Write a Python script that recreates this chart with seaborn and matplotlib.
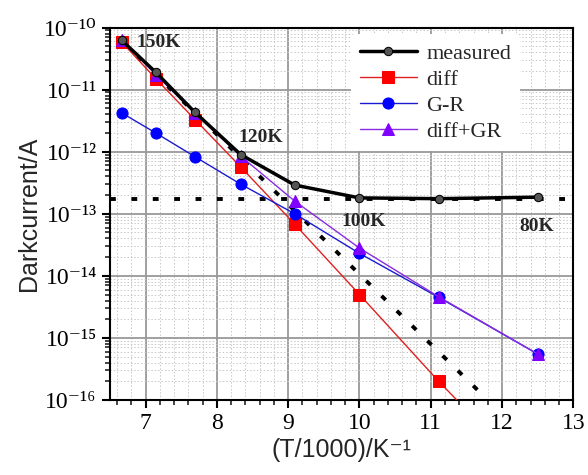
import numpy as np
import pandas as pd
import matplotlib
matplotlib.use("Agg")
import matplotlib.pyplot as plt
import matplotlib.ticker as mticker
import seaborn as sns

# ---- data ----
inv_T = [6.667, 7.143, 7.692, 8.333, 9.091, 10.0, 11.111, 12.5]
measured = [6.2e-11, 1.9e-11, 4.3e-12, 9.0e-13, 2.9e-13, 1.8e-13, 1.75e-13, 1.85e-13]
diff = [5.8e-11, 1.5e-11, 3.3e-12, 5.7e-13, 6.8e-14, 5.0e-15, 2.0e-16, 4.5e-18]
gr = [4.2e-12, 2.0e-12, 8.3e-13, 3.0e-13, 1.0e-13, 2.3e-14, 4.5e-15, 5.5e-16]
diff_gr = [6.2e-11, 1.75e-11, 4.2e-12, 8.5e-13, 1.6e-13, 2.8e-14, 4.6e-15, 5.5e-16]
extrap_x = [6.667, 11.8]
extrap_y = [6.0e-11, 1.0e-16]
floor_y = 1.75e-13
temp_labels = ["150K", "120K", "100K", "80K"]
temp_label_x = [7.18, 8.61, 10.06, 12.49]
temp_label_y = [5.8e-11, 1.7e-12, 7.6e-14, 6.3e-14]

sns.set_theme(style="white")

SUP = str.maketrans("-0123456789", "⁻⁰¹²³⁴⁵⁶⁷⁸⁹")


def log_fmt(v, pos):
    e = int(round(np.log10(v)))
    return "10" + str(e).translate(SUP)


fig = plt.figure(figsize=(5.88, 4.75), dpi=100)
ax = fig.add_axes([0.187, 0.158, 0.788, 0.784])

ax.set_yscale("log")
ax.set_xlim(6.5, 13)
ax.set_ylim(1e-16, 1e-10)

# grids
ax.xaxis.set_major_locator(mticker.MultipleLocator(1))
ax.xaxis.set_minor_locator(mticker.MultipleLocator(0.2))
ax.yaxis.set_major_locator(mticker.LogLocator(base=10, numticks=10))
ax.yaxis.set_major_formatter(mticker.FuncFormatter(log_fmt))
ax.yaxis.set_minor_locator(mticker.LogLocator(base=10, subs=np.arange(2, 10), numticks=20))
ax.yaxis.set_minor_formatter(mticker.NullFormatter())
ax.grid(which="major", color="#999999", linewidth=1.3, linestyle="-")
ax.grid(which="minor", color="#c8c8c8", linewidth=0.7, linestyle=(0, (1.5, 2)))
ax.set_axisbelow(True)

# reference dotted lines
ax.axhline(floor_y, color="black", linestyle=(0, (1.5, 4)), linewidth=2.8, zorder=2)
sns.lineplot(x=extrap_x, y=extrap_y, ax=ax, color="black", linestyle=(0, (1.5, 4)),
             linewidth=2.8, zorder=2)

df = pd.DataFrame({"x": inv_T, "measured": measured, "diff": diff, "G-R": gr, "diff+GR": diff_gr})

sns.lineplot(data=df, x="x", y="measured", ax=ax, color="black", linewidth=2.5,
             marker="o", markersize=6, markerfacecolor="#555555", markeredgecolor="black",
             label="measured", zorder=5)
sns.lineplot(data=df, x="x", y="diff", ax=ax, color="#e02020", linewidth=1.0,
             marker="s", markersize=8, markerfacecolor="#ff0000", markeredgecolor="#ff0000",
             label="diff", zorder=4)
sns.lineplot(data=df, x="x", y="G-R", ax=ax, color="#1a1ad0", linewidth=1.0,
             marker="o", markersize=8, markerfacecolor="#0000ff", markeredgecolor="#0000ff",
             label="G-R", zorder=4)
sns.lineplot(data=df, x="x", y="diff+GR", ax=ax, color="#8a2be2", linewidth=1.0,
             marker="^", markersize=9, markerfacecolor="#8000ff", markeredgecolor="#8000ff",
             label="diff+GR", zorder=4)

for t, tx, ty in zip(temp_labels, temp_label_x, temp_label_y):
    ax.text(tx, ty, t, fontsize=14, fontweight="bold", family="Liberation Serif",
            ha="center", va="center", zorder=6)

for s in ax.spines.values():
    s.set_color("black")
    s.set_linewidth(1.5)

ax.tick_params(axis="both", which="major", direction="out", length=6, width=1.5,
               labelsize=17, colors="black", bottom=True, left=True)
ax.tick_params(axis="both", which="minor", direction="out", length=3.5, width=1.2,
               bottom=True, left=True)
for lab in ax.get_xticklabels():
    lab.set_family("Liberation Serif")
for lab in ax.get_yticklabels():
    lab.set_family(["Liberation Serif", "DejaVu Serif"])

ax.set_xlabel("(T/1000)/K⁻¹", fontsize=18, family=["Liberation Sans", "DejaVu Sans"], labelpad=3)
ax.set_ylabel("Darkcurrent/A", fontsize=18, family="Liberation Sans", labelpad=2)

leg = ax.legend(loc="upper left", bbox_to_anchor=(0.505, 1.0), frameon=True,
                prop={"family": "Liberation Serif", "size": 16}, handlelength=2.6,
                handletextpad=0.4, labelspacing=0.25, borderaxespad=0.3)
leg.get_frame().set_facecolor("white")
leg.get_frame().set_edgecolor("none")
leg.get_frame().set_alpha(1.0)

fig.savefig("out.png", dpi=100)
